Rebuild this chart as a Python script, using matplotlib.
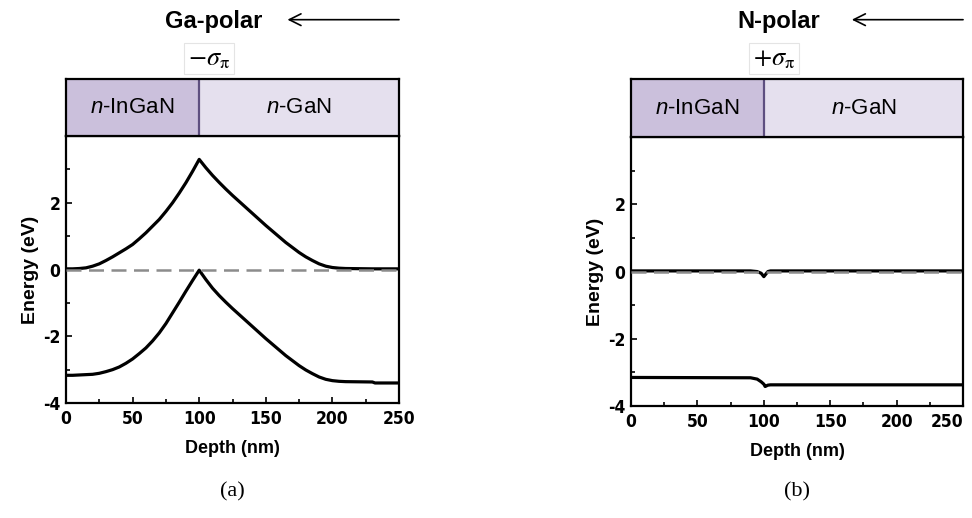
import matplotlib.pyplot as plt
from matplotlib.patches import FancyArrowPatch
from matplotlib import font_manager

plt.rcParams['font.family'] = ['Liberation Sans', 'DejaVu Sans']
plt.rcParams['mathtext.fontset'] = 'custom'
plt.rcParams['mathtext.it'] = 'Liberation Sans:italic'
plt.rcParams['mathtext.rm'] = 'Liberation Sans'
plt.rcParams['axes.unicode_minus'] = False

# narrow bold face for the axis numbers, if the system has one
narrow = font_manager.FontProperties(family='DejaVu Sans', stretch='condensed', weight='bold')
if 'Condensed' in font_manager.findfont(narrow):
    num_family, num_stretch, num_size = 'DejaVu Sans', 'condensed', 12.5
else:
    num_family, num_stretch, num_size = 'Liberation Sans', 'normal', 11.5

# Ga-polar band edges (depth in nm, energy in eV)
ga_depth = [0, 5, 10, 15, 20, 25, 30, 35, 40, 45, 50, 55, 60, 65, 70, 75, 80, 85, 90, 95, 100,
            105, 110, 115, 120, 125, 130, 135, 140, 145, 150, 155, 160, 165, 170, 175, 180,
            185, 190, 195, 200, 205, 210, 230, 232, 250]
ga_ec = [0.02, 0.02, 0.03, 0.05, 0.10, 0.17, 0.27, 0.38, 0.50, 0.62, 0.75, 0.92, 1.10, 1.30,
         1.50, 1.74, 2.00, 2.29, 2.60, 2.94, 3.30,
         3.05, 2.82, 2.61, 2.41, 2.22, 2.04, 1.86, 1.68, 1.50, 1.32, 1.15, 0.98, 0.81, 0.66,
         0.51, 0.38, 0.27, 0.17, 0.10, 0.06, 0.04, 0.03, 0.02, 0.02, 0.02]
ga_ev = [-3.17, -3.17, -3.16, -3.15, -3.14, -3.11, -3.06, -3.00, -2.92, -2.81, -2.68, -2.52,
         -2.35, -2.14, -1.90, -1.62, -1.30, -0.98, -0.65, -0.33, -0.02,
         -0.30, -0.56, -0.78, -0.98, -1.17, -1.35, -1.53, -1.71, -1.89, -2.07, -2.24, -2.41,
         -2.58, -2.73, -2.88, -3.01, -3.12, -3.22, -3.29, -3.33, -3.35, -3.36, -3.37, -3.40, -3.40]

# N-polar band edges
n_depth = [0, 90, 95, 98, 100, 101, 102, 103, 105, 250]
n_ec = [0.02, 0.02, 0.00, -0.05, -0.15, -0.10, -0.05, 0.00, 0.02, 0.02]
n_ev = [-3.15, -3.16, -3.20, -3.28, -3.35, -3.42, -3.40, -3.38, -3.37, -3.37]

layers = ['$n$-InGaN', '$n$-GaN']
layer_edges = [0, 100, 250]
layer_colors = ['#cbc0dc', '#e5e0ee']

panels = [
    dict(depth=ga_depth, ec=ga_ec, ev=ga_ev, title='Ga-polar', charge=r'$-\sigma_{\mathrm{\pi}}$',
         tag='(a)', ax_rect=[0.0679, 0.2220, 0.3426, 0.5154], box_rect=[0.0679, 0.7374, 0.3426, 0.1100]),
    dict(depth=n_depth, ec=n_ec, ev=n_ev, title='N-polar', charge=r'$+\sigma_{\mathrm{\pi}}$',
         tag='(b)', ax_rect=[0.6492, 0.2162, 0.3416, 0.5190], box_rect=[0.6492, 0.7355, 0.3416, 0.1120]),
]

fig = plt.figure(figsize=(9.72, 5.18), dpi=100)

for k, p in enumerate(panels):
    ax = fig.add_axes(p['ax_rect'])
    ax.plot(p['depth'], p['ec'], color='black', lw=2.3, zorder=2, solid_joinstyle='round')
    ax.plot(p['depth'], p['ev'], color='black', lw=2.3, zorder=2, solid_joinstyle='round')
    ax.axhline(0, color='#8c8c8c', lw=1.8, ls=(0, (6, 3)), zorder=3)
    ax.set_xlim(0, 250)
    ax.set_ylim(-4, 4)
    ax.set_xticks([0, 50, 100, 150, 200, 250])
    ax.set_xticks([25, 75, 125, 175, 225], minor=True)
    ax.set_yticks([-4, -2, 0, 2])
    ax.set_yticks([-3, -1, 1, 3], minor=True)
    ax.tick_params(which='both', direction='in', width=1.2)
    ax.tick_params(which='major', length=4)
    ax.tick_params(which='minor', length=3)
    ax.tick_params(axis='x', pad=5)
    ax.tick_params(axis='y', pad=4)
    for lab in ax.get_xticklabels() + ax.get_yticklabels():
        lab.set_fontweight('bold')
        lab.set_family(num_family)
        lab.set_fontstretch(num_stretch)
        lab.set_fontsize(num_size)
    if k == 1:
        # keep the last number inside the figure edge
        ax.get_xticklabels()[-1].set_horizontalalignment('right')
    for s in ax.spines.values():
        s.set_linewidth(1.6)
    ax.set_xlabel('Depth (nm)', fontsize=13, fontweight='bold', labelpad=9)
    ax.set_ylabel('Energy (eV)', fontsize=14, fontweight='bold', labelpad=3)

    # layer stack above the band diagram
    bx = fig.add_axes(p['box_rect'])
    bx.set_xlim(0, 250)
    bx.set_ylim(0, 1)
    for i, name in enumerate(layers):
        x0, x1 = layer_edges[i], layer_edges[i + 1]
        bx.axvspan(x0, x1, color=layer_colors[i], lw=0)
        bx.text((x0 + x1) / 2, 0.5, name, ha='center', va='center', fontsize=16)
    bx.axvline(100, color='#5e4f80', lw=1.6)
    bx.set_xticks([])
    bx.set_yticks([])
    for s in bx.spines.values():
        s.set_linewidth(1.6)

    # polarity title, arrow and interface charge
    x_left = p['ax_rect'][0]
    w = p['ax_rect'][2]
    fig.text(x_left + w * 0.445, 0.958, p['title'], ha='center', va='center', fontsize=17,
             fontweight='bold')
    fig.add_artist(FancyArrowPatch(
        (x_left + w * 1.0, 0.962), (x_left + w * 0.665, 0.962), transform=fig.transFigure,
        arrowstyle='->,head_length=0.6,head_width=0.3', mutation_scale=14, lw=1.2,
        color='black', shrinkA=0, shrinkB=0))
    fig.text(x_left + w * 0.43, 0.887, p['charge'], ha='center', va='center', fontsize=19,
             math_fontfamily='stix',
             bbox=dict(boxstyle='square,pad=0.15', fc='white', ec='#e4e4e4', lw=0.8))
    fig.text(x_left + w * 0.5, 0.05, p['tag'], ha='center', va='center', fontsize=16,
             family='Liberation Serif')

fig.savefig('out.png', dpi=100)
